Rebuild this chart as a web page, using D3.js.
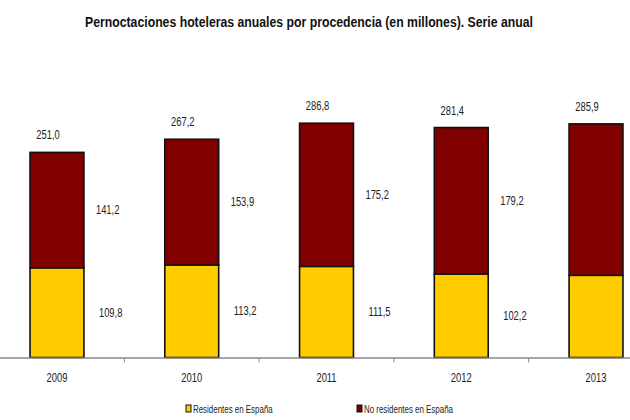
<!DOCTYPE html>
<html>
<head>
<meta charset="utf-8">
<script src="https://cdn.jsdelivr.net/npm/d3@7/dist/d3.min.js"></script>
<style>
  html, body { margin: 0; padding: 0; background: #fff; }
  svg { display: block; }
  text { font-family: "Liberation Sans Narrow", "Arial Narrow", "Liberation Sans", Arial, sans-serif; fill: #222; }
</style>
</head>
<body>
<svg id="chart" width="630" height="420"></svg>
<script>
const years = ["2009", "2010", "2011", "2012", "2013"];
const residentes = [109.8, 113.2, 111.5, 102.2, 100.6];
const noResidentes = [141.2, 153.9, 175.2, 179.2, 185.3];
const totales = [251.0, 267.2, 286.8, 281.4, 285.9];
const seriesNames = ["Residentes en España", "No residentes en España"];
const seriesColors = ["#ffcc00", "#800000"];
const title = "Pernoctaciones hoteleras anuales por procedencia (en millones). Serie anual";

const W = 630, H = 420;
const svg = d3.select("#chart");
const fmt = v => d3.format(".1f")(v).replace(".", ",");

// emulate a narrow typeface by condensing glyphs horizontally
function condense(sel, f) {
  sel.each(function () {
    const len = this.getComputedTextLength();
    d3.select(this).attr("textLength", len * f).attr("lengthAdjust", "spacingAndGlyphs");
  });
}

const baseY = 357.5;
const x = d3.scaleBand().domain(years).range([-10.4, 663.4]).paddingInner(0.6).paddingOuter(0.3);
const y = d3.scaleLinear().domain([0, 350]).range([baseY, baseY - 286]);

const rows = years.map((yr, i) => ({ yr, res: residentes[i], nores: noResidentes[i], tot: totales[i] }));
const stack = d3.stack().keys(["res", "nores"])(rows);

// title
svg.append("text")
  .attr("x", 309).attr("y", 27)
  .attr("text-anchor", "middle")
  .style("font-size", "14px").style("font-weight", "bold").style("fill", "#111")
  .text(title)
  .call(condense, 0.875);

// bars
const g = svg.append("g");
stack.forEach((layer, li) => {
  g.selectAll(null).data(layer).enter().append("rect")
    .attr("x", d => x(d.data.yr))
    .attr("width", x.bandwidth())
    .attr("y", d => y(d[1]))
    .attr("height", d => y(d[0]) - y(d[1]))
    .attr("fill", seriesColors[li])
    .attr("stroke", "#111")
    .attr("stroke-width", 1.6);
});

// segment labels (those of the last bar fall outside the visible area, as in the reference)
stack.forEach((layer, li) => {
  g.selectAll(null).data(layer.filter(d => x(d.data.yr) + x.bandwidth() + 40 < W)).enter().append("text")
    .attr("x", d => x(d.data.yr) + x.bandwidth() + (li === 0 ? 15 : 12))
    .attr("y", d => (y(d[0]) + y(d[1])) / 2 + 4)
    .style("font-size", "12px")
    .text(d => fmt(d.data[li === 0 ? "res" : "nores"]))
    .call(condense, 0.78);
});

// total labels
g.selectAll(null).data(rows).enter().append("text")
  .attr("x", d => x(d.yr) + x.bandwidth() / 2 - 9)
  .attr("y", d => y(d.tot) - 13)
  .attr("text-anchor", "middle")
  .style("font-size", "12px")
  .text(d => fmt(d.tot))
  .call(condense, 0.78);

// x axis
const axis = svg.append("g");
axis.append("line")
  .attr("x1", 0).attr("x2", W).attr("y1", baseY + 0.5).attr("y2", baseY + 0.5)
  .attr("stroke", "#888").attr("stroke-width", 1.5);
const step = x.step();
const bounds = years.slice(1).map(yr => x(yr) + x.bandwidth() / 2 - step / 2);
axis.selectAll(null).data(bounds).enter().append("line")
  .attr("x1", d => d).attr("x2", d => d)
  .attr("y1", baseY + 0.5).attr("y2", baseY + 5)
  .attr("stroke", "#888").attr("stroke-width", 1);
axis.selectAll(null).data(years).enter().append("text")
  .attr("x", d => x(d) + x.bandwidth() / 2)
  .attr("y", 382)
  .attr("text-anchor", "middle")
  .style("font-size", "12px")
  .text(d => d)
  .call(condense, 0.78);

// legend
const legendX = [186, 357];
seriesNames.forEach((name, i) => {
  const lg = svg.append("g").attr("transform", `translate(${legendX[i]},409)`);
  lg.append("rect").attr("x", 0).attr("y", -4).attr("width", 5).attr("height", 7)
    .attr("fill", seriesColors[i]).attr("stroke", "#111").attr("stroke-width", 1);
  lg.append("text").attr("x", 7).attr("y", 3.5)
    .style("font-size", "11px")
    .text(name)
    .call(condense, 0.72);
});
</script>
</body>
</html>
